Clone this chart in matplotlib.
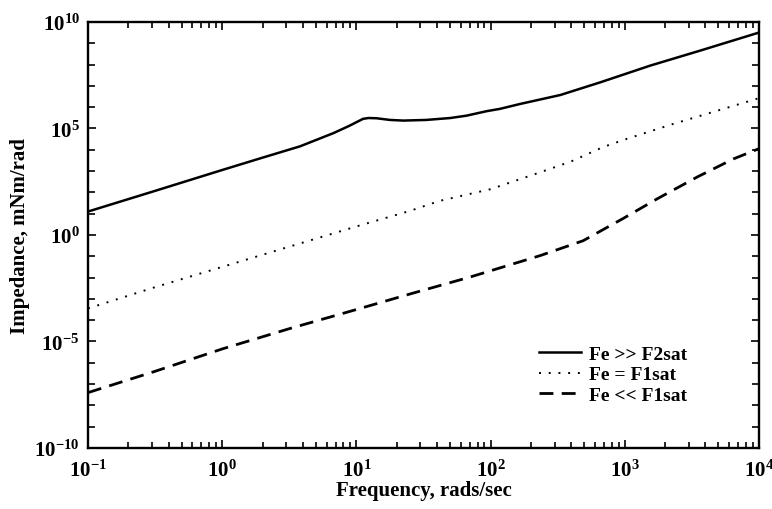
import numpy as np
import matplotlib
matplotlib.use("Agg")
import matplotlib.pyplot as plt
from matplotlib.ticker import FixedLocator, FuncFormatter, LogLocator, NullFormatter

# ---- data (impedance values stored as log10 exponents) ----
freq_solid = [0.1, 0.316, 1.0, 2.0, 3.8, 6.8, 8.9, 11.2, 12.3, 14.1, 17.8, 22.4, 33.1,
              50.1, 66.1, 93.3, 117.5, 166.0, 331.0, 661.0, 1549.0, 3631.0, 10000.0]
solid_log10 = [1.10, 2.07, 3.05, 3.63, 4.16, 4.79, 5.13, 5.45, 5.49, 5.48, 5.40, 5.37, 5.40,
               5.49, 5.60, 5.81, 5.92, 6.15, 6.57, 7.17, 7.95, 8.65, 9.50]

freq_dotted = [0.1, 0.316, 1.0, 3.16, 10.0, 25.1, 41.7, 100.0, 234.0, 398.0, 692.0, 1000.0,
               2291.0, 10000.0]
dotted_log10 = [-3.45, -2.45, -1.50, -0.55, 0.40, 1.13, 1.60, 2.15, 2.94, 3.45, 4.13, 4.48,
                5.21, 6.42]

freq_dashed = [0.1, 0.316, 1.0, 3.16, 10.0, 25.1, 70.8, 234.0, 490.0, 977.0, 1738.0,
               3467.0, 6457.0, 10000.0]
dashed_log10 = [-7.40, -6.40, -5.35, -4.40, -3.50, -2.77, -1.97, -0.97, -0.27, 0.78, 1.69,
                2.72, 3.57, 4.05]

legend_labels = ["Fe >> F2sat", "Fe = F1sat", "Fe << F1sat"]
x_label = "Frequency, rads/sec"
y_label = "Impedance, mNm/rad"
x_limits = (1e-1, 1e4)
y_limits = (1e-10, 1e10)
y_label_exponents = [-10, -5, 0, 5, 10]

# ---- styling ----
plt.rcParams["font.family"] = ["Liberation Serif", "DejaVu Serif"]
plt.rcParams["font.weight"] = "bold"
plt.rcParams["mathtext.fontset"] = "custom"
plt.rcParams["mathtext.rm"] = "Liberation Serif:bold"
plt.rcParams["mathtext.bf"] = "Liberation Serif:bold"
plt.rcParams["mathtext.it"] = "Liberation Serif:bold:italic"

fig = plt.figure(figsize=(7.72, 5.10), dpi=100)
ax = fig.add_axes([0.114, 0.1196, 0.869, 0.8354])

ax.plot(freq_solid, 10.0 ** np.array(solid_log10), color="black", lw=1.8,
        solid_joinstyle="round", label=legend_labels[0])
ax.plot(freq_dotted, 10.0 ** np.array(dotted_log10), color="black", lw=1.4,
        dashes=(1.0, 4.0), label=legend_labels[1])
ax.plot(freq_dashed, 10.0 ** np.array(dashed_log10), color="black", lw=2.0,
        dashes=(5.0, 3.0), label=legend_labels[2])

ax.set_xscale("log")
ax.set_yscale("log")
ax.set_xlim(*x_limits)
ax.set_ylim(*y_limits)

# x ticks
ax.xaxis.set_major_locator(LogLocator(base=10, numticks=20))
ax.xaxis.set_minor_locator(LogLocator(base=10, subs=np.arange(2, 10), numticks=100))
ax.xaxis.set_minor_formatter(NullFormatter())
ax.xaxis.set_major_formatter(FuncFormatter(lambda v, p: r"$10^{%d}$" % int(round(np.log10(v)))))

# y ticks: every decade, labels every 5 decades
ax.yaxis.set_major_locator(FixedLocator([10.0 ** e for e in y_label_exponents]))
ax.yaxis.set_minor_locator(FixedLocator([10.0 ** e for e in range(-10, 11)]))
ax.yaxis.set_minor_formatter(NullFormatter())
ax.yaxis.set_major_formatter(FuncFormatter(lambda v, p: r"$10^{%d}$" % int(round(np.log10(v)))))

ax.tick_params(which="both", direction="in", top=True, right=True, width=1.2, colors="black")
ax.tick_params(which="major", length=6, labelsize=15)
ax.tick_params(axis="x", which="major", pad=8)
ax.tick_params(axis="y", which="major", pad=6)
ax.tick_params(which="minor", length=4)
ax.tick_params(axis="y", which="minor", length=5)

for s in ax.spines.values():
    s.set_linewidth(1.7)

ax.set_xlabel(x_label, fontsize=15, fontweight="bold", labelpad=0)
ax.set_ylabel(y_label, fontsize=15, fontweight="bold", labelpad=3)

leg = ax.legend(loc="lower right", bbox_to_anchor=(0.905, 0.085), frameon=False,
                fontsize=14, handlelength=2.2, handletextpad=0.4, labelspacing=0.15,
                borderaxespad=0.0)

fig.savefig("out.png", dpi=100)
